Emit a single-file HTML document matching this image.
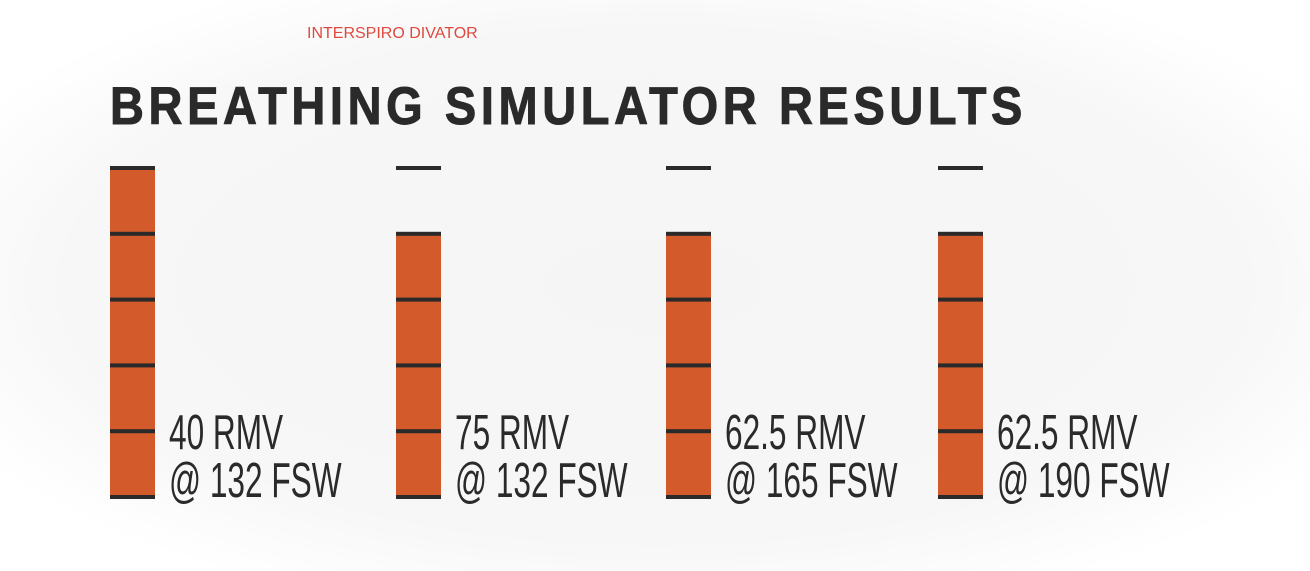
<!DOCTYPE html>
<html><head><meta charset="utf-8"><style>
html,body{margin:0;padding:0;width:1310px;height:571px;overflow:hidden;background:#fff;}
svg{display:block}
</style></head><body>
<svg id="chart" width="1310" height="571">
<defs><radialGradient id="bg" cx="50%" cy="50%" r="60%"><stop offset="0%" stop-color="#f5f5f5"/><stop offset="75%" stop-color="#f7f7f7"/><stop offset="100%" stop-color="#ffffff"/></radialGradient></defs>
<rect width="1310" height="571" fill="url(#bg)"/>
<text x="307" y="38" font-family="Liberation Sans, sans-serif" font-size="16" fill="#e0483e">INTERSPIRO DIVATOR</text>
<text x="110" y="124" font-family="Liberation Sans, sans-serif" font-weight="bold" font-size="53" letter-spacing="5.2" fill="#2a2a2a" stroke="#2a2a2a" stroke-width="1" textLength="917" lengthAdjust="spacingAndGlyphs">BREATHING SIMULATOR RESULTS</text>
<g id="bars"></g>
</svg>
<script>
const categories=["40 RMV|@ 132 FSW","75 RMV|@ 132 FSW","62.5 RMV|@ 165 FSW","62.5 RMV|@ 190 FSW"];
const values=[5,4,4,4];
const maxValue=5;
const NS="http://www.w3.org/2000/svg";
const gBars=document.getElementById('bars');
const xLeft=[110,396,666,938];
const barW=45, baseY=497, topY=168;
function yScale(v){return baseY-(v/maxValue)*(baseY-topY);}
function mk(t,a){const e=document.createElementNS(NS,t);for(const k in a)e.setAttribute(k,a[k]);gBars.appendChild(e);return e;}
categories.forEach((c,i)=>{
  const x=xLeft[i];
  const bar=mk('rect',{x:x,y:yScale(values[i]),width:barW,height:baseY-yScale(values[i]),fill:'#d35a2b'});
  
  
  for(let k=0;k<=maxValue;k++){
    const t=mk('rect',{x:x,y:yScale(k)-2,width:barW,height:4,fill:'#2a2a2a'});
    
    
  }
  const parts=c.split('|');
  parts.forEach((p,j)=>{
    const tx=mk('text',{x:0,y:0,'font-family':'Liberation Sans, sans-serif','font-size':'49',fill:'#2a2a2a',transform:'translate('+(x+barW+14)+','+(449+j*48)+') scale(0.645,1)'});
    tx.textContent=p;
    
    
  });
});
</script>
</body></html>
